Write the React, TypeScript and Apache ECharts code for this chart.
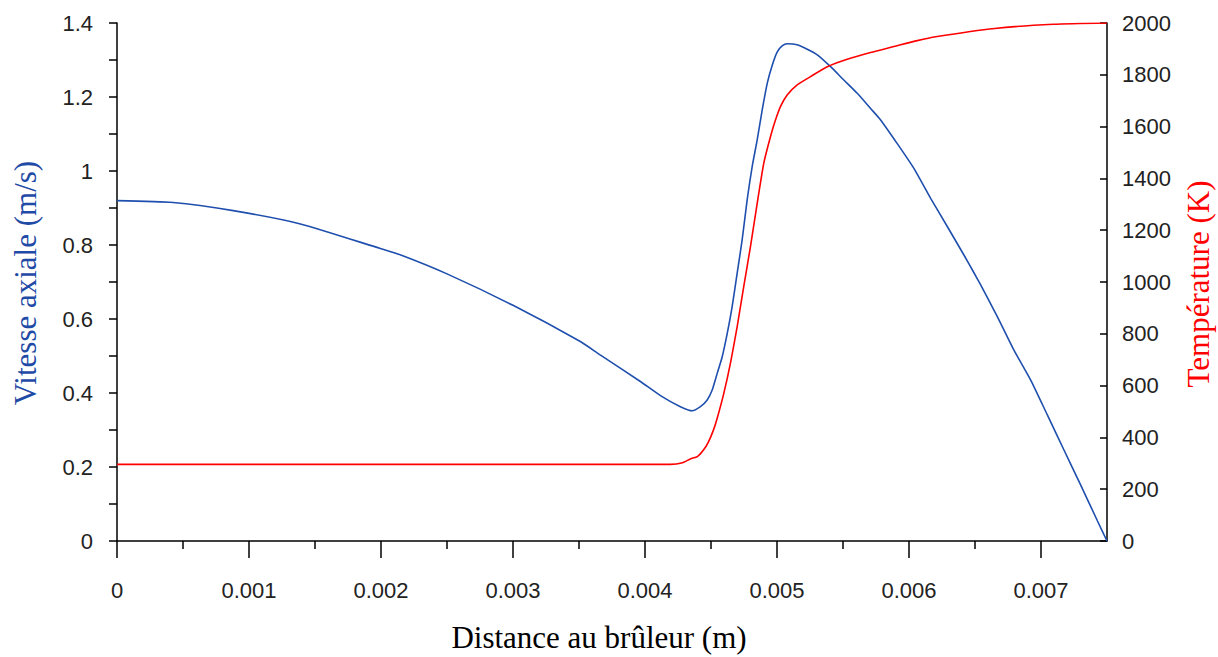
import React, { useEffect, useRef } from "react";
import * as echarts from "echarts";

// Axial velocity (m/s) vs distance (m)
const velX = [0, 0.000425, 0.00088, 0.00139, 0.00199, 0.00215, 0.0025, 0.003, 0.00351, 0.00366, 0.003965, 0.004117, 0.004268, 0.004357, 0.00442, 0.004471, 0.004509, 0.004547, 0.004585, 0.004623, 0.00466, 0.004698, 0.004736, 0.004774, 0.004812, 0.00485, 0.004888, 0.004926, 0.004964, 0.005002, 0.005039, 0.005077, 0.005153, 0.005229, 0.005305, 0.005406, 0.005506, 0.005608, 0.005709, 0.005785, 0.005911, 0.006037, 0.006164, 0.00629, 0.006416, 0.006492, 0.006543, 0.00667, 0.006795, 0.006922, 0.007049, 0.007174, 0.007301, 0.007428, 0.0075];
const velY = [0.92, 0.915, 0.893, 0.857, 0.791, 0.773, 0.722, 0.637, 0.539, 0.503, 0.431, 0.393, 0.363, 0.352, 0.363, 0.381, 0.408, 0.453, 0.498, 0.561, 0.633, 0.723, 0.814, 0.922, 1.012, 1.084, 1.165, 1.237, 1.286, 1.322, 1.338, 1.344, 1.341, 1.329, 1.314, 1.282, 1.246, 1.21, 1.169, 1.138, 1.074, 1.007, 0.926, 0.85, 0.773, 0.725, 0.692, 0.606, 0.516, 0.435, 0.34, 0.246, 0.151, 0.054, 0];

// Temperature (K) vs distance (m)
const tempX = [0, 0.00397, 0.00419, 0.004284, 0.004344, 0.004397, 0.004443, 0.004481, 0.004519, 0.004547, 0.004597, 0.004647, 0.004698, 0.004748, 0.004799, 0.00485, 0.0049, 0.004951, 0.004989, 0.005027, 0.005077, 0.005153, 0.005254, 0.005381, 0.005532, 0.005709, 0.005886, 0.006063, 0.006202, 0.006649, 0.007096, 0.0075];
const tempY = [296, 296, 296, 302, 317, 326, 351, 383, 429, 474, 570, 686, 827, 982, 1137, 1304, 1459, 1562, 1626, 1678, 1722, 1761, 1793, 1831, 1860, 1886, 1909, 1932, 1947, 1979, 1995, 2000];

const xTicks = [0, 0.001, 0.002, 0.003, 0.004, 0.005, 0.006, 0.007];

const xTitle = "Distance au brûleur (m)";
const yLeftTitle = "Vitesse axiale (m/s)";
const yRightTitle = "Température (K)";

const BLUE = "#1f4fae";
const RED = "#ff0000";
const tickFont = "'Liberation Sans', Arial, sans-serif";
const titleFont = "'Liberation Serif', 'Times New Roman', serif";

export default function App() {
  const ref = useRef<HTMLDivElement>(null);
  useEffect(() => {
    if (!ref.current) return;
    const chart = echarts.init(ref.current, undefined, { renderer: "svg" });
    const velData = velX.map((x, i) => [x, velY[i]]);
    const tempData = tempX.map((x, i) => [x, tempY[i]]);
    chart.setOption({
      animation: false,
      backgroundColor: "#ffffff",
      grid: { left: 117, right: 111, top: 23, bottom: 116, containLabel: false },
      xAxis: {
        type: "value",
        min: 0,
        max: 0.0075,
        interval: 0.001,
        splitLine: { show: false },
        axisLine: { lineStyle: { color: "#000", width: 1.5 } },
        axisTick: { show: true, length: 17, lineStyle: { color: "#000", width: 1.5 }, customValues: xTicks },
        minorTick: { show: true, splitNumber: 2, length: 8, lineStyle: { color: "#000", width: 1.5 } },
        axisLabel: {
          customValues: xTicks,
          margin: 38,
          fontSize: 22,
          fontFamily: tickFont,
          color: "#222",
          formatter: (v: number) => (Math.abs(v - 0.0075) < 1e-9 ? "" : String(+v.toFixed(4))),
        },
      },
      yAxis: [
        {
          type: "value",
          position: "left",
          min: 0,
          max: 1.4,
          interval: 0.2,
          splitLine: { show: false },
          axisLine: { show: true, lineStyle: { color: "#000", width: 1.5 } },
          axisTick: { show: true, length: 8, lineStyle: { color: "#000", width: 1.5 } },
          minorTick: { show: true, splitNumber: 2, length: 8, lineStyle: { color: "#000", width: 1.5 } },
          axisLabel: {
            margin: 24,
            fontSize: 22,
            fontFamily: tickFont,
            color: "#222",
            formatter: (v: number) => String(+v.toFixed(1)),
          },
        },
        {
          type: "value",
          position: "right",
          min: 0,
          max: 2000,
          interval: 200,
          splitLine: { show: false },
          axisLine: { show: true, lineStyle: { color: "#000", width: 1.5 } },
          axisTick: { show: true, inside: true, length: 7, lineStyle: { color: "#000", width: 1.5 } },
          axisLabel: {
            margin: 15,
            fontSize: 22,
            fontFamily: tickFont,
            color: "#222",
            formatter: (v: number) => String(Math.round(v)),
          },
        },
      ],
      series: [
        {
          type: "line",
          name: "Vitesse",
          yAxisIndex: 0,
          data: velData,
          smooth: 0.2,
          showSymbol: false,
          lineStyle: { color: BLUE, width: 1.6 },
        },
        {
          type: "line",
          name: "Température",
          yAxisIndex: 1,
          data: tempData,
          smooth: 0.2,
          showSymbol: false,
          lineStyle: { color: RED, width: 1.6 },
        },
      ],
      graphic: [
        {
          type: "text",
          x: 599,
          y: 637,
          style: { text: xTitle, fill: "#000", font: `31px ${titleFont}`, align: "center", verticalAlign: "middle" },
        },
        {
          type: "text",
          x: 25,
          y: 283,
          rotation: Math.PI / 2,
          style: { text: yLeftTitle, fill: "#1f4aa5", font: `31px ${titleFont}`, align: "center", verticalAlign: "middle" },
        },
        {
          type: "text",
          x: 1198,
          y: 284,
          rotation: Math.PI / 2,
          style: { text: yRightTitle, fill: RED, font: `31px ${titleFont}`, align: "center", verticalAlign: "middle" },
        },
      ],
    });
    return () => chart.dispose();
  }, []);
  return <div ref={ref} style={{ position: "fixed", left: 0, top: 0, width: 1218, height: 657 }} />;
}
